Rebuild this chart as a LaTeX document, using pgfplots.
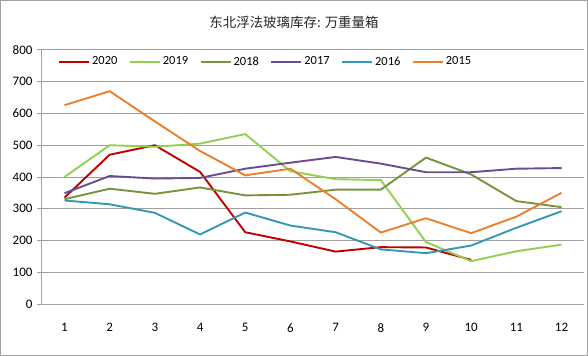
\documentclass[border=0pt]{standalone}
\usepackage{fontspec}
\setmainfont{Carlito}
\newfontfamily\cjk{Noto Sans CJK SC}
\usepackage{pgfplots}
\pgfplotsset{compat=1.18}
\definecolor{c20}{HTML}{C00000}
\definecolor{c19}{HTML}{92D050}
\definecolor{c18}{HTML}{77933C}
\definecolor{c17}{HTML}{6A4C93}
\definecolor{c16}{HTML}{3399B3}
\definecolor{c15}{HTML}{E9802E}
\definecolor{gridc}{HTML}{A0A0A0}
\begin{document}
\begin{tikzpicture}[x=1bp,y=1bp]
\draw[gridc, line width=0.8bp] (0.5,0.5) rectangle (587.5,355.5);
\node[font=\cjk\fontsize{13.5}{15}\selectfont, text=black!85] at (294,334) {东北浮法玻璃库存: 万重量箱};
\begin{axis}[
  at={(42bp,52bp)}, anchor=south west,
  scale only axis, width=542bp, height=254bp,
  xmin=0.5, xmax=12.5, ymin=0, ymax=800,
  xtick={1,...,12}, ytick={0,100,...,800},
  /pgf/number format/assume math mode=true,
  tick label style={font=\fontsize{13}{15}\selectfont, text=black},
  ymajorgrids, grid style={gridc, line width=0.9bp},
  axis x line=bottom, axis y line=left,
  axis line style={gridc, line width=0.9bp, -},
  x axis line style={draw=none},
  xtick style={draw=none},
  ytick style={gridc, line width=0.9bp},
  major tick length=5bp,
  tick align=outside,
  xticklabel style={yshift=-11bp},
  yticklabel style={xshift=-1bp},
  legend style={at={(0.024,0.99)}, anchor=north west, draw=none, fill=none,
    font=\fontsize{12.5}{14}\selectfont, legend columns=6,
    /tikz/every even column/.append style={column sep=9.5bp}},
  legend image code/.code={\draw[#1] (0bp,0bp) -- (30bp,0bp);},
  legend image post style={line width=2bp},
]
\addplot[c20, line width=1.9bp] coordinates {(1,335) (2,470) (3,500) (4,416) (5,226) (6,197) (7,165) (8,179) (9,178) (10,139)};
\addlegendentry{2020}
\addplot[c19, line width=1.9bp] coordinates {(1,400) (2,500) (3,495) (4,505) (5,535) (6,418) (7,393) (8,390) (9,195) (10,135) (11,166) (12,187)};
\addlegendentry{2019}
\addplot[c18, line width=1.9bp] coordinates {(1,330) (2,363) (3,347) (4,367) (5,342) (6,344) (7,360) (8,360) (9,461) (10,408) (11,324) (12,305)};
\addlegendentry{2018}
\addplot[c17, line width=1.9bp] coordinates {(1,349) (2,403) (3,395) (4,397) (5,426) (6,445) (7,463) (8,442) (9,415) (10,415) (11,426) (12,428)};
\addlegendentry{2017}
\addplot[c16, line width=1.9bp] coordinates {(1,326) (2,314) (3,287) (4,219) (5,288) (6,247) (7,226) (8,172) (9,160) (10,184) (11,240) (12,292)};
\addlegendentry{2016}
\addplot[c15, line width=1.9bp] coordinates {(1,626) (2,670) (3,575) (4,482) (5,405) (6,426) (7,330) (8,225) (9,270) (10,223) (11,275) (12,350)};
\addlegendentry{2015}
\end{axis}
\end{tikzpicture}
\end{document}
